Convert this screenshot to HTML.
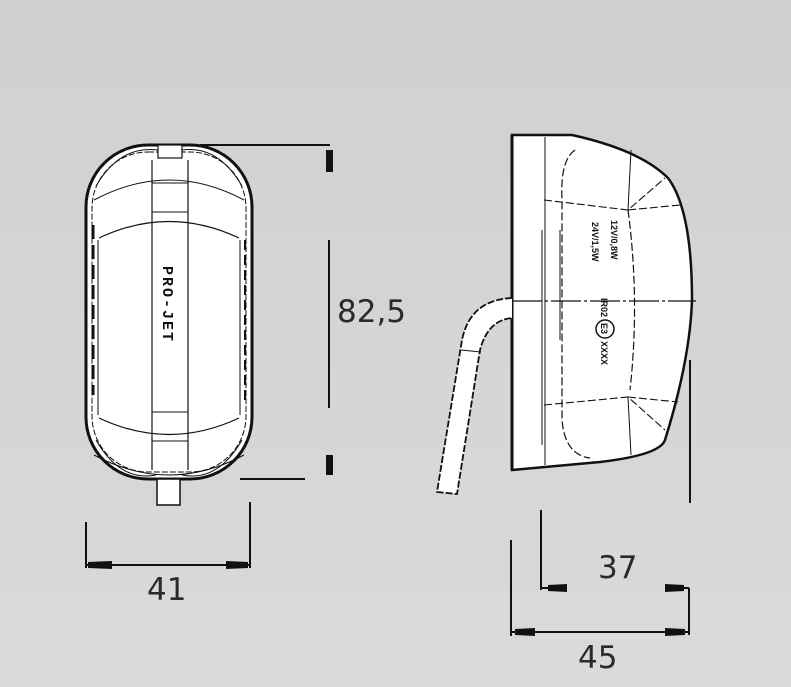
<!DOCTYPE html>
<html><head><meta charset="utf-8"><style>
html,body{margin:0;padding:0;width:791px;height:687px;overflow:hidden;background:#d3d5d7}
svg{display:block}
</style></head><body>
<svg width="791" height="687" viewBox="0 0 791 687" xmlns="http://www.w3.org/2000/svg">
<defs><linearGradient id="bg" x1="0" y1="0" x2="0" y2="1"><stop offset="0" stop-color="#cfd0d2"/><stop offset="1" stop-color="#d8dadc"/></linearGradient></defs>
<rect width="791" height="687" fill="url(#bg)"/>

<!-- LEFT FRONT VIEW -->
<g stroke="#111" fill="none">
<rect x="86" y="145" width="166" height="334" rx="62" ry="62" fill="#fff" stroke-width="3"/>
<rect x="92" y="152" width="154" height="320" rx="56" ry="56" stroke-width="1" stroke-dasharray="6 2"/>
<path d="M99 238 Q169 205 239 238 M99 418 Q169 451 239 418" stroke-width="1.2"/>
<path d="M94 200 Q169 160 244 200 M94 455 Q169 495 244 455" stroke-width="1"/>
<path d="M96 186 Q120 145 158 150 M242 186 Q218 145 182 150 M96 440 Q120 482 156 475 M242 440 Q218 482 182 475" stroke-width="1"/>
<line x1="152" y1="160" x2="152" y2="470" stroke-width="1.2"/>
<line x1="188" y1="160" x2="188" y2="470" stroke-width="1.2"/>
<line x1="98" y1="240" x2="98" y2="415" stroke-width="1"/>
<line x1="240" y1="240" x2="240" y2="415" stroke-width="1"/>
<line x1="152" y1="183" x2="188" y2="183" stroke-width="1"/>
<line x1="152" y1="212" x2="188" y2="212" stroke-width="1"/>
<line x1="152" y1="412" x2="188" y2="412" stroke-width="1"/>
<line x1="152" y1="441" x2="188" y2="441" stroke-width="1"/>
<rect x="158" y="145" width="24" height="13" stroke-width="1.2" fill="#fff"/>
<rect x="157" y="479" width="23" height="26" stroke-width="1.5" fill="#fff"/>
<line x1="93" y1="225" x2="93" y2="395" stroke-width="3" stroke-dasharray="14 6"/>
<line x1="245" y1="240" x2="245" y2="400" stroke-width="2" stroke-dasharray="10 5"/>
</g>
<text x="0" y="0" transform="translate(163,266) rotate(90)" font-family="Liberation Mono, monospace" font-weight="bold" font-size="15" fill="#111" letter-spacing="2">PRO-JET</text>

<!-- left dims -->
<g stroke="#111" stroke-width="2" fill="none">
<line x1="200" y1="145" x2="330" y2="145"/>
<line x1="240" y1="479" x2="305" y2="479"/>
<line x1="329" y1="240" x2="329" y2="408"/>
<line x1="86" y1="522" x2="86" y2="568"/>
<line x1="250" y1="502" x2="250" y2="568"/>
<line x1="86" y1="565" x2="250" y2="565"/>
</g>
<g fill="#111">
<polygon points="326,150 333,150 333,172 326,172"/>
<polygon points="326,455 333,455 333,475 326,475"/>
<polygon points="88,562 112,561 112,569 88,568"/>
<polygon points="248,562 226,561 226,569 248,568"/>
</g>
<text x="337" y="322" font-family="DejaVu Sans, sans-serif" font-size="31" fill="#2a2a2a">82,5</text>
<text x="147" y="600" font-family="DejaVu Sans, sans-serif" font-size="31" fill="#2a2a2a">41</text>

<!-- RIGHT SIDE VIEW -->
<g stroke="#111" fill="none">
<path d="M512 135 L572 135 Q640 150 668 178 Q692 210 692 300 Q690 360 665 440 Q660 455 600 462 L512 470 Z" fill="#fff" stroke-width="2.5"/>
<line x1="512" y1="135" x2="512" y2="470" stroke-width="3"/>
<path d="M512 298 Q470 300 462 340 L437 492 L457 494 L480 350 Q488 320 512 318" fill="#fff" stroke-width="1.8" stroke-dasharray="7 2"/>
<line x1="461" y1="350" x2="481" y2="352" stroke-width="1"/>
<path d="M575 150 Q560 160 562 200 L562 420 Q565 455 590 458" stroke-width="1.2" stroke-dasharray="8 3"/>
<path d="M628 210 Q640 300 630 390" stroke-width="1.2" stroke-dasharray="8 3"/>
<path d="M544 200 L628 210 L665 178 M628 210 L680 205 M544 405 L628 397 L665 430 M628 397 L678 402" stroke-width="1.1" stroke-dasharray="8 3"/>
<line x1="631" y1="150" x2="628" y2="210" stroke-width="1"/>
<line x1="631" y1="455" x2="628" y2="397" stroke-width="1"/>
<line x1="545" y1="137" x2="545" y2="465" stroke-width="1"/>
<line x1="542" y1="230" x2="542" y2="445" stroke-width="1"/>
<line x1="560" y1="230" x2="560" y2="340" stroke-width="1"/>
<line x1="512" y1="301" x2="696" y2="301" stroke-width="1.2" stroke-dasharray="30 3 3 3"/>
<circle cx="605" cy="329" r="9" stroke-width="1.5"/>
</g>
<g font-family="Liberation Sans, sans-serif" font-weight="bold" font-size="9" fill="#111">
<text transform="translate(611,220) rotate(90)">12V/0,8W</text>
<text transform="translate(592,222) rotate(90)">24V/1,5W</text>
<text transform="translate(601,298) rotate(90)">IR02</text>
<text transform="translate(601,323) rotate(90)">E3</text>
<text transform="translate(601,341) rotate(90)">XXXX</text>
</g>

<!-- right dims -->
<g stroke="#111" stroke-width="2" fill="none">
<line x1="690" y1="360" x2="690" y2="503"/>
<line x1="541" y1="510" x2="541" y2="590"/>
<line x1="541" y1="588" x2="565" y2="588"/>
<line x1="665" y1="588" x2="689" y2="588"/>
<line x1="689" y1="588" x2="689" y2="635"/>
<line x1="511" y1="540" x2="511" y2="636"/>
<line x1="511" y1="632" x2="689" y2="632"/>
</g>
<g fill="#111">
<polygon points="548,585 567,584 567,592 548,591"/>
<polygon points="665,584 684,585 684,591 665,592"/>
<polygon points="515,629 535,628 535,636 515,635"/>
<polygon points="665,628 685,629 685,635 665,636"/>
</g>
<text x="598" y="578" font-family="DejaVu Sans, sans-serif" font-size="31" fill="#2a2a2a">37</text>
<text x="578" y="668" font-family="DejaVu Sans, sans-serif" font-size="31" fill="#2a2a2a">45</text>
</svg>
</body></html>
